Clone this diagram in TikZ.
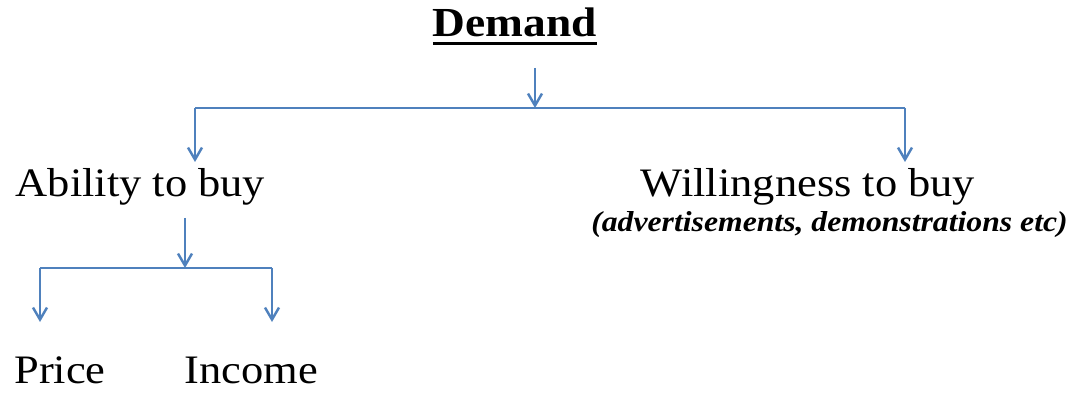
\documentclass[tikz,border=0pt]{standalone}
\usepackage{fontspec}
\setmainfont[FakeStretch=1.1]{Liberation Serif}
\usepackage{tikz}
\usetikzlibrary{arrows.meta,positioning}
\definecolor{lineblue}{RGB}{79,129,189}
\newcommand{\thickul}[1]{\leavevmode\setbox0\hbox{#1}\copy0\llap{\rule[-4.8pt]{\wd0}{1.7pt}}}

\begin{document}
\begin{tikzpicture}[
            label/.style={inner sep=0pt, anchor=base, font=\fontsize{23}{26}\selectfont},
            title/.style={inner sep=0pt, anchor=base, font=\fontsize{23.5}{26}\selectfont\bfseries},
            note/.style={inner sep=0pt, anchor=base, font=\fontsize{16.4}{19}\selectfont\bfseries\itshape},
            arrow/.style={-{Straight Barb[length=2.4mm,width=2.8mm]}, lineblue, line width=1.4pt},
            link/.style={lineblue, line width=1.4pt}
        ]
        \useasboundingbox (0,0) rectangle (21.6,-7.86);

        % Labels
        \node[title] (demand) at (10.3,-0.74) {\thickul{Demand}};
        \node[label] (ability) at (2.81,-3.94) {Ability to buy};
        \node[label] (willing) at (16.16,-3.94) {Willingness to buy};
        \node[note] (willnote) at (16.59,-4.64) {(advertisements, demonstrations etc)};
        \node[label] (price) at (1.2,-7.66) {Price};
        \node[label] (income) at (5.03,-7.66) {Income};

        % Junction points
        \coordinate (demandout) at (10.7,-1.36);
        \coordinate (topsplit) at (10.7,-2.16);
        \coordinate (topleft) at (3.9,-2.16);
        \coordinate (topright) at (18.1,-2.16);
        \coordinate (abilityin) at (3.9,-3.24);
        \coordinate (willingin) at (18.1,-3.24);
        \coordinate (abilityout) at (3.7,-4.36);
        \coordinate (lowsplit) at (3.7,-5.36);
        \coordinate (lowleft) at (0.8,-5.36);
        \coordinate (lowright) at (5.44,-5.36);
        \coordinate (pricein) at (0.8,-6.44);
        \coordinate (incomein) at (5.44,-6.44);

        % Top branch
        \draw[arrow] (demandout) -- (topsplit);
        \draw[link] (topleft) -- (topright);
        \draw[arrow] (topleft) -- (abilityin);
        \draw[arrow] (topright) -- (willingin);

        % Lower branch
        \draw[arrow] (abilityout) -- (lowsplit);
        \draw[link] (lowleft) -- (lowright);
        \draw[arrow] (lowleft) -- (pricein);
        \draw[arrow] (lowright) -- (incomein);
    \end{tikzpicture}
\end{document}
